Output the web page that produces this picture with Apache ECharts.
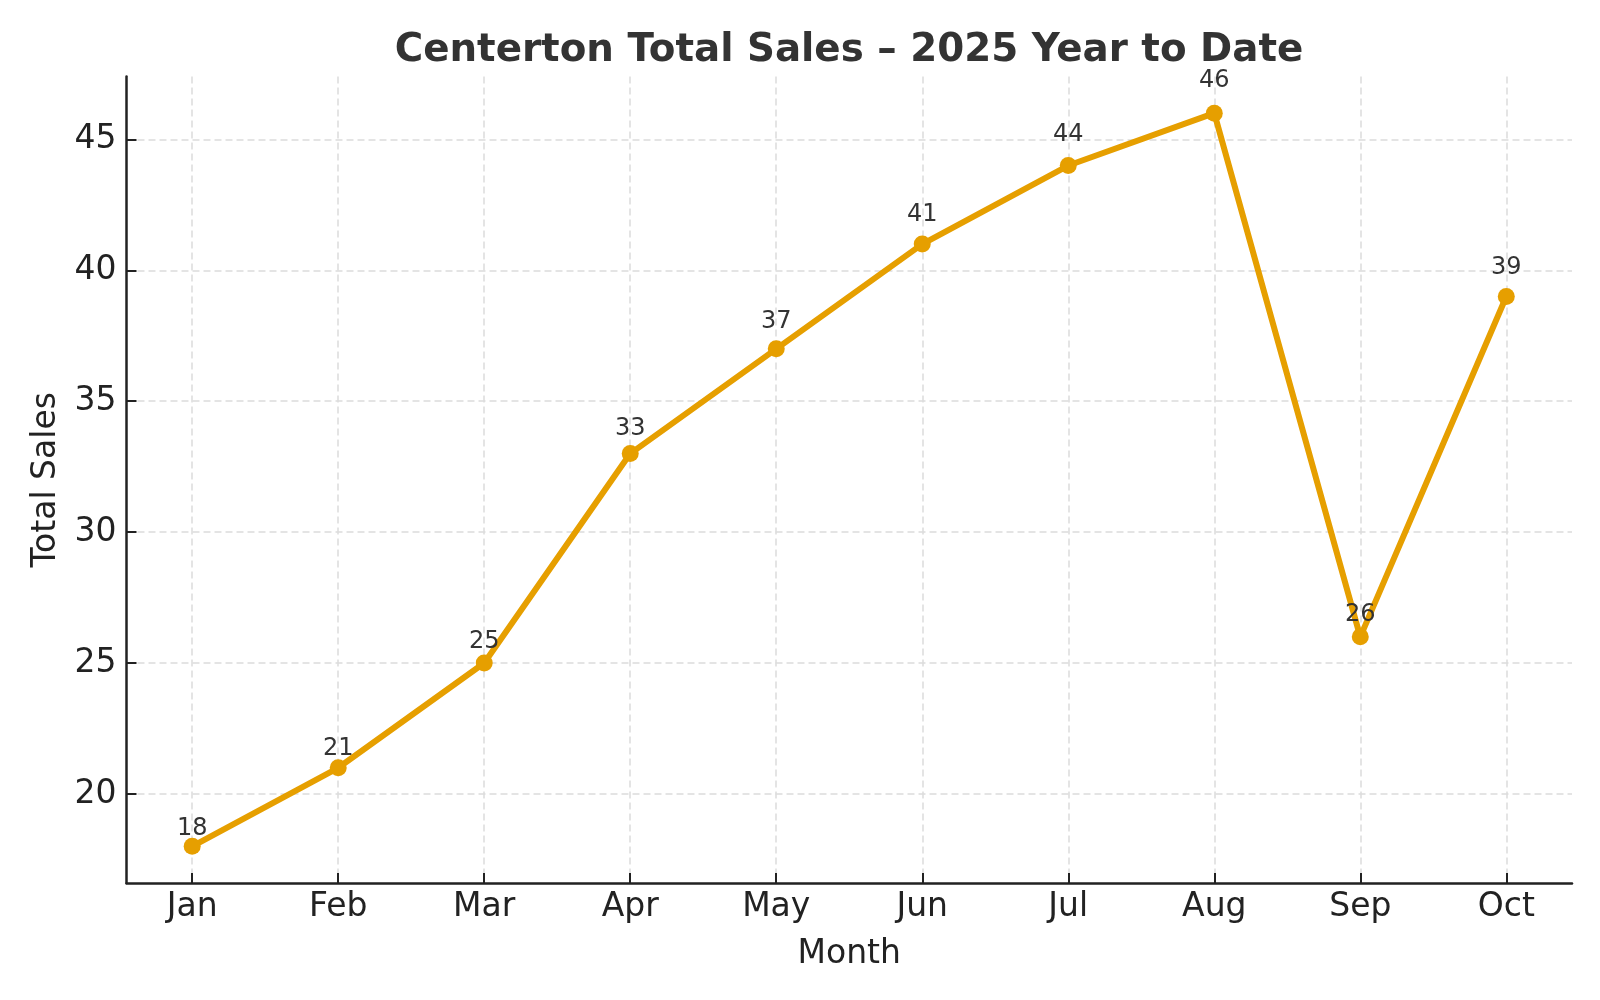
<!DOCTYPE html>
<html>
<head>
<meta charset="utf-8">
<script src="https://cdn.jsdelivr.net/npm/echarts@6/dist/echarts.min.js"></script>
<style>
html,body{margin:0;padding:0;background:#fff;}
#chart{width:1600px;height:1000px;}
</style>
</head>
<body>
<div id="chart"></div>
<script>
const months = ['Jan','Feb','Mar','Apr','May','Jun','Jul','Aug','Sep','Oct'];
const sales = [18,21,25,33,37,41,44,46,26,39];
const yTicks = [20,25,30,35,40,45];
const xTicks = months.map((m,i)=>i);

const FONT = 'DejaVu Sans';
const chart = echarts.init(document.getElementById('chart'), null, {renderer:'canvas'});
const gridLine = {show:true, lineStyle:{color:'#dcdcdc', width:1.5, type:[7,4]}};
chart.setOption({
  backgroundColor:'#ffffff',
  animation:false,
  title:{
    text:'Centerton Total Sales – 2025 Year to Date',
    left:844, top:26, textAlign:'center',
    textStyle:{fontFamily:FONT, fontWeight:'bold', fontSize:38.8, color:'#333333'}
  },
  grid:{left:126.5, right:28, top:76.5, bottom:117, containLabel:false},
  xAxis:{
    type:'value', min:-0.45, max:9.45,
    name:'Month', nameLocation:'middle', nameGap:55,
    nameTextStyle:{fontFamily:FONT, fontSize:33, color:'#222'},
    axisLine:{show:true, onZero:false, lineStyle:{color:'#222', width:2.5}},
    axisTick:{show:true, inside:true, length:10, customValues:xTicks, lineStyle:{color:'#222', width:2}},
    axisLabel:{customValues:xTicks, fontFamily:FONT, fontSize:33, color:'#222', margin:8,
      formatter:(v)=>months[Math.round(v)]},
    splitLine:gridLine
  },
  yAxis:{
    type:'value', min:16.6, max:47.4,
    name:'Total Sales', nameLocation:'middle', nameGap:64, nameRotate:90,
    nameTextStyle:{fontFamily:FONT, fontSize:33, color:'#222'},
    axisLine:{show:true, onZero:false, lineStyle:{color:'#222', width:2.5}},
    axisTick:{show:true, inside:true, length:10, customValues:yTicks, lineStyle:{color:'#222', width:2}},
    axisLabel:{customValues:yTicks, fontFamily:FONT, fontSize:33, color:'#222', margin:10},
    splitLine:gridLine
  },
  series:[{
    type:'line',
    data:sales.map((v,i)=>[i,v]),
    lineStyle:{color:'#E69F00', width:6},
    itemStyle:{color:'#E69F00'},
    symbol:'circle', symbolSize:17, showAllSymbol:true,
    label:{show:false},
    z:3
  },{
    type:'scatter',
    data:sales.map((v,i)=>[i, v*1.02]),
    symbolSize:0,
    silent:true,
    itemStyle:{opacity:1, color:'#333333'},
    label:{show:true, position:'inside', offset:[0,-8], fontFamily:FONT, fontSize:24,
      color:'#333333', opacity:1, textBorderWidth:0,
      formatter:(p)=>String(sales[p.dataIndex])},
    z:4
  }]
});
</script>
</body>
</html>
